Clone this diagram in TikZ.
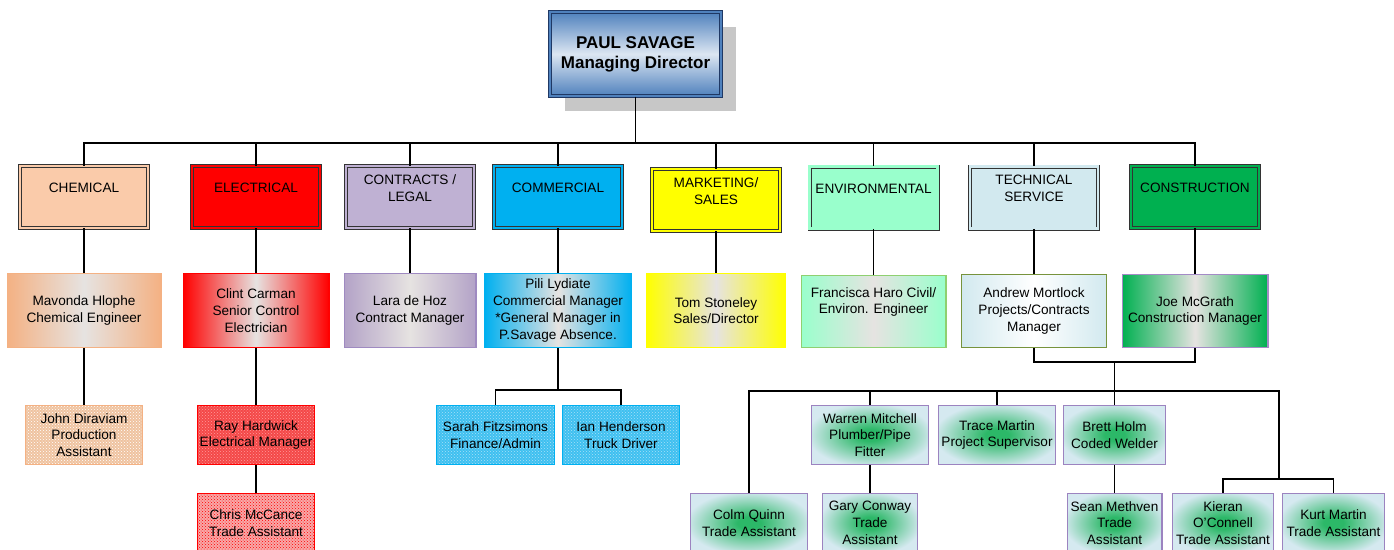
\documentclass[tikz,border=0pt]{standalone}
\usepackage{fontspec}
\setmainfont{Liberation Sans}
\usepackage{tikz}
\usetikzlibrary{shadows,patterns}

\definecolor{mdblue}{HTML}{4F81BD}
\definecolor{mdlight}{HTML}{DCE6F2}
\definecolor{mdnavy}{HTML}{1F3864}
\definecolor{chemfill}{HTML}{FACBAA}
\definecolor{chemside}{HTML}{F4B183}
\definecolor{elecfill}{HTML}{FF0000}
\definecolor{contrfill}{HTML}{BFB1D3}
\definecolor{laraside}{HTML}{B3A2C7}
\definecolor{laraline}{HTML}{9F8AC1}
\definecolor{commfill}{HTML}{00B0F0}
\definecolor{mktfill}{HTML}{FFFF00}
\definecolor{envfill}{HTML}{99FFCC}
\definecolor{franline}{HTML}{8FD070}
\definecolor{techfill}{HTML}{D2E9EF}
\definecolor{andrewline}{HTML}{77933C}
\definecolor{consfill}{HTML}{00B050}
\definecolor{joeline}{HTML}{A48BC6}
\definecolor{midgray}{HTML}{E6E3E1}
\definecolor{crewfill}{HTML}{D5E9F0}
\definecolor{crewglow}{HTML}{2CB868}
\definecolor{crewline}{HTML}{9C83C0}
\definecolor{johnfill}{HTML}{EFC3A0}
\definecolor{rayfill}{HTML}{F44848}
\definecolor{raydots}{HTML}{FF9C9C}
\definecolor{chrisfill}{HTML}{F8A8A8}
\definecolor{sarahfill}{HTML}{3FC0F0}
\definecolor{sarahdots}{HTML}{A8E0F8}

\pgfdeclareradialshading{crew glow}{\pgfpoint{0bp}{0bp}}{color(0bp)=(crewglow); color(5bp)=(crewglow); color(27bp)=(crewfill); color(50bp)=(crewfill)}

\begin{document}
\begin{tikzpicture}[x=1pt, y=-1pt,
    every node/.style={font=\fontsize{13.6}{16.7}\selectfont, align=center, inner sep=0pt},
    link/.style={line width=1.5pt},
    hv/.style={to path={-| (\tikztotarget)}},
    vh/.style={to path={|- (\tikztotarget)}},
    dept/.style={draw=black!80, line width=0.9pt, double=#1, double distance=2.2pt, fill=#1,
        minimum width=128pt, minimum height=62pt},
    dname/.style={yshift=9pt},
    staff/.style n args={3}{draw=#3, line width=1.2pt, left color=#1, right color=#1,
        middle color=#2, minimum height=73.8pt},
    hatched/.style n args={3}{draw=#1, line width=1.2pt, preaction={fill=#2},
        pattern=crosshatch dots, pattern color=#3, minimum height=58.8pt},
    crew/.style={draw=crewline, line width=1.2pt, shading=crew glow, minimum height=58.8pt}]

    \useasboundingbox (0,0) rectangle (1394,549);
    \clip (0,0) rectangle (1394,549);

    % managing director
    \node[draw=mdnavy, line width=1pt, double=mdblue, double distance=2pt,
          top color=mdblue, bottom color=mdblue, middle color=mdlight,
          drop shadow={shadow xshift=15pt, shadow yshift=-15pt, fill=black!22, opacity=1},
          minimum width=171pt, minimum height=84pt, font=\fontsize{17}{20}\selectfont\bfseries]
        (md) at (635.5,54) {PAUL SAVAGE\\Managing Director};

    % departments
    \node[dept=chemfill, label={[dname]center:CHEMICAL}] (chem) at (84,197) {};
    \node[dept=elecfill, label={[dname]center:ELECTRICAL}] (elec) at (256,197) {};
    \node[dept=contrfill, label={[dname]center:{CONTRACTS /\\LEGAL}}] (contr) at (410,197) {};
    \node[dept=commfill, label={[dname]center:COMMERCIAL}] (comm) at (558,197) {};
    \node[dept=mktfill, label={[dname]center:{MARKETING/\\SALES}}] (mkt) at (716,200) {};
    \node[dept=envfill, label={[dname]center:ENVIRONMENTAL}] (env) at (873.5,197.5) {};
    \node[dept=techfill, label={[dname]center:{TECHNICAL\\SERVICE}}] (tech) at (1034,197.5) {};
    \node[dept=consfill, label={[dname]center:CONSTRUCTION}] (cons) at (1195,197) {};

    % managers
    \node[staff={chemside}{midgray}{chemside}, minimum width=153.8pt] (mav) at (84,310.5)
        {Mavonda Hlophe\\Chemical Engineer};
    \node[staff={elecfill}{midgray}{elecfill}, minimum width=145.8pt] (clint) at (256,310.5)
        {Clint Carman\\Senior Control\\Electrician};
    \node[staff={laraside}{midgray}{laraline}, minimum width=131.8pt] (lara) at (410,310.5)
        {Lara de Hoz\\Contract Manager};
    \node[staff={commfill}{midgray}{commfill}, minimum width=146.8pt] (pili) at (558,310.5)
        {Pili Lydiate\\Commercial Manager\\*General Manager in\\P.Savage Absence.};
    \node[staff={mktfill}{midgray}{mktfill}, minimum width=138.8pt] (tom) at (716,310.5)
        {Tom Stoneley\\Sales/Director};
    \node[staff={envfill}{midgray}{franline}, minimum width=144.8pt, minimum height=71.8pt] (fran) at (873.5,311.5)
        {Francisca Haro Civil/\\Environ. Engineer\\\strut};
    \node[staff={techfill}{white}{andrewline}, minimum width=144.8pt, minimum height=72.8pt] (andrew) at (1034,311)
        {Andrew Mortlock\\Projects/Contracts\\Manager};
    \node[staff={consfill}{midgray}{joeline}, minimum width=145.8pt, minimum height=72.8pt] (joe) at (1195,311)
        {Joe McGrath\\Construction Manager};

    % staff
    \node[hatched={chemside}{johnfill}{white}, minimum width=116.8pt] (john) at (84,435)
        {John Diraviam\\Production\\Assistant};
    \node[hatched={elecfill}{rayfill}{raydots}, minimum width=116.8pt] (ray) at (256,435)
        {Ray Hardwick\\Electrical Manager};
    \node[hatched={elecfill}{chrisfill}{elecfill}, minimum width=116.8pt] (chris) at (256,523)
        {Chris McCance\\Trade Assistant};
    \node[hatched={commfill}{sarahfill}{sarahdots}, minimum width=117.8pt] (sarah) at (495.5,435)
        {Sarah Fitzsimons\\Finance/Admin};
    \node[hatched={commfill}{sarahfill}{sarahdots}, minimum width=116.8pt] (ian) at (621,435)
        {Ian Henderson\\Truck Driver};

    \node[crew, minimum width=116.8pt] (warren) at (870,435) {Warren Mitchell\\Plumber/Pipe\\Fitter};
    \node[crew, minimum width=116.8pt] (trace) at (997,435) {Trace Martin\\Project Supervisor};
    \node[crew, minimum width=101.8pt] (brett) at (1114.5,435) {Brett Holm\\Coded Welder};
    \node[crew, minimum width=116.8pt] (colm) at (749,523) {Colm Quinn\\Trade Assistant};
    \node[crew, minimum width=94.8pt] (gary) at (870,523) {Gary Conway\\Trade\\Assistant};
    \node[crew, minimum width=94.8pt] (sean) at (1114.5,523) {Sean Methven\\Trade\\Assistant};
    \node[crew, minimum width=100.8pt] (kieran) at (1223,523) {Kieran\\O’Connell\\Trade Assistant};
    \node[crew, minimum width=101.8pt] (kurt) at (1333.5,523) {Kurt Martin\\Trade Assistant};

    \coordinate (top bus) at (635.5,143);
    \coordinate (comm bus) at (558,390);
    \coordinate (pair bus) at (1114.5,362);
    \coordinate (crew bus) at (1114.5,391);
    \coordinate (fitter bus) at (1279,479);

    \path[link]
        (md) edge (top bus)
        (top bus) edge[hv] (chem.north)
        (top bus) edge[hv] (elec.north)
        (top bus) edge[hv] (contr.north)
        (top bus) edge[hv] (comm.north)
        (top bus) edge[hv] (mkt.north)
        (top bus) edge[hv] (env.north)
        (top bus) edge[hv] (tech.north)
        (top bus) edge[hv] (cons.north)
        (chem) edge (mav)
        (mav) edge (john)
        (elec) edge (clint)
        (clint) edge (ray)
        (ray) edge (chris)
        (contr) edge (lara)
        (comm) edge (pili)
        (pili) edge (comm bus)
        (comm bus) edge[hv] (sarah.north)
        (comm bus) edge[hv] (ian.north)
        (mkt) edge (tom)
        (env) edge (fran)
        (tech) edge (andrew)
        (cons) edge (joe)
        (andrew.south) edge[vh] (pair bus)
        (joe.south) edge[vh] (pair bus)
        (pair bus) edge (crew bus)
        (crew bus) edge[hv] (colm.north)
        (crew bus) edge[hv] (warren.north)
        (crew bus) edge[hv] (trace.north)
        (crew bus) edge (brett)
        (crew bus) edge[hv] (fitter bus)
        (fitter bus) edge[hv] (kieran.north)
        (fitter bus) edge[hv] (kurt.north)
        (warren) edge (gary)
        (brett) edge (sean)
        ;
\end{tikzpicture}
\end{document}
